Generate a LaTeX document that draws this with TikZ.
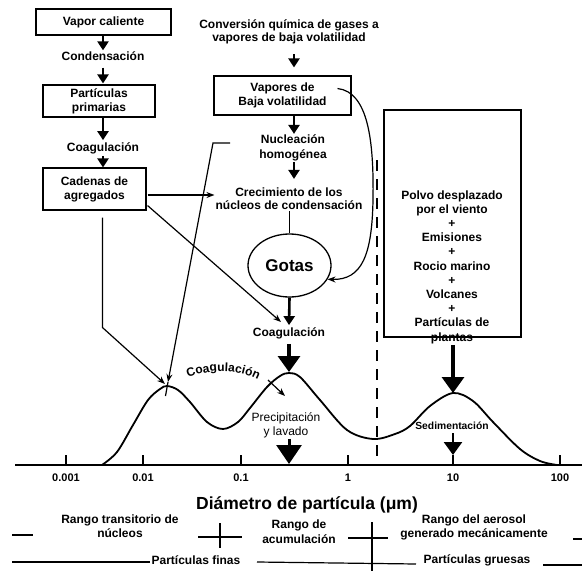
\documentclass[tikz,border=0pt]{standalone}
\usepackage{fontspec}
\setmainfont{Liberation Sans}
\usetikzlibrary{arrows.meta,calc,decorations.text,shapes.geometric}
\begin{document}
\begin{tikzpicture}[x=1pt,y=-1pt,
 lbl/.style={font=\bfseries\fontsize{12}{14}\selectfont, align=center, inner sep=1pt},
 boxn/.style={draw, line width=1.1pt, inner sep=0pt, align=center, font=\bfseries\fontsize{12}{14}\selectfont},
 sarrow/.style={line width=2.6pt, -{Triangle[width=11pt,length=9pt]}},
 barrow/.style={line width=3.4pt, -{Triangle[width=22pt,length=16pt]}},
 darrow/.style={line width=3pt, -{Triangle[width=25pt,length=19pt]}},
 earrow/.style={line width=2.6pt, -{Triangle[width=18pt,length=13pt]}},
 tline/.style={line width=1.2pt},
 tarrow/.style={line width=1.2pt, -{Stealth[length=8pt,width=6pt]}},
 tickl/.style={line width=1.2pt},
 num/.style={font=\bfseries\fontsize{11}{13}\selectfont, inner sep=1pt},
 ]
\useasboundingbox (0,0) rectangle (582,571);
\fill[white] (0,0) rectangle (582,571);

% column 1
\node[boxn, minimum width=135pt, minimum height=26pt] (vc) at (103.5,22) {Vapor caliente};
\node[lbl] (cond) at (103,56) {Condensación};
\node[boxn, minimum width=112pt, minimum height=32pt] (pp) at (99,101) {Partículas\\primarias};
\node[lbl] (coag1) at (103,148) {Coagulación};
\node[boxn, minimum width=103pt, minimum height=42pt] (cad) at (94.5,189) {Cadenas de\\agregados};
\draw[sarrow] (vc.south -| cond) -- (cond.north);
\draw[sarrow, shorten <=6pt, shorten >=1pt] (cond.south) -- (cond.south |- pp.north);
\draw[sarrow, shorten >=1pt] (pp.south -| coag1) -- (coag1.north);
\draw[sarrow, shorten <=1pt] (coag1.south) -- (coag1.south |- cad.north);

% column 2
\coordinate (col2) at (294,0);
\node[lbl, font=\bfseries\fontsize{12}{13}\selectfont] (conv) at (289,32) {Conversión química de gases a\\vapores de baja volatilidad};
\node[boxn, minimum width=137pt, minimum height=39pt] (vap) at (282.5,95.5) {Vapores de\\Baja volatilidad};
\node[lbl, font=\bfseries\fontsize{12}{14.5}\selectfont] (nuc) at (293,148) {Nucleación\\homogénea};
\node[lbl, font=\bfseries\fontsize{12}{13}\selectfont] (cre) at (289,199) {Crecimiento de los\\núcleos de condensación};
\node[draw, ellipse, line width=1.3pt, minimum width=83pt, minimum height=63pt, inner sep=0pt, font=\bfseries\fontsize{17}{20}\selectfont] (got) at (289.5,265.5) {Gotas};
\node[lbl] (coag2) at (289,333) {Coagulación};
\draw[sarrow, shorten <=9pt, shorten >=8pt] (conv.south -| col2) -- (vap.north -| col2);
\draw[sarrow] (vap.south -| col2) -- (nuc.north -| col2);
\draw[sarrow, shorten >=8pt] (nuc.south -| col2) -- (cre.north -| col2);
\draw[tline] (cre.south -| got.north) -- (got.north);
\draw[sarrow, shorten >=1pt] (got.south) -- (coag2.north);
\coordinate (pk2) at (289,372);
\draw[barrow, shorten <=4pt] (coag2.south) -- (pk2);

% curved arrow from Vapores to Gotas
\draw[tarrow] ($(vap.east)+(-14,-7)$) .. controls (368,92) and (374,140) .. (373,200) .. controls (372,255) and (362,280) .. (got.-20);

% right box
\node[draw, line width=1.1pt, minimum width=137pt, minimum height=227pt, inner sep=0pt] (rb) at (452.5,223.5) {};
\node[lbl, font=\bfseries\fontsize{12}{14.2}\selectfont] (rbt) at (452,267) {Polvo desplazado\\por el viento\\+\\Emisiones\\+\\Rocio marino\\+\\Volcanes\\+\\Partículas de\\plantas};
\coordinate (pk3) at (453,393);
\draw[barrow] (rbt.south -| pk3) -- (pk3);

% dashed separator
\coordinate (d1) at (377,160);
\coordinate (d2) at (377,465);
\draw[line width=1.8pt, dash pattern=on 11pt off 8pt] (d1) -- (d2);

% lines from Cadenas de agregados
\coordinate (pk1a) at (165,384);
\coordinate (pk1b) at (168,382);
\draw[tarrow] ($(cad.south)+(8,7)$) -- ++(0,110) -- (pk1a);
\coordinate (h1) at ($(cad.east)+(1,6)$);
\draw[tarrow] (h1) -- (h1 -| cre.west);
\coordinate (dg) at (281,322);
\draw[tarrow] ($(cad.south east)+(1,-5)$) -- (dg);
\coordinate (n1) at (230,143);
\coordinate (n2) at (213,143);
\draw[tarrow] (n1) -- (n2) -- (pk1b);
\draw[tline] (pk1b) -- ++(-2.5,14);

% distribution curve
\draw[line width=1.8pt] plot[smooth, tension=0.55] coordinates {(102,465) (117,452) (133,425) (148,400) (160,389) (167,386) (178,390) (190,402) (207,422) (223,429) (238,422) (250,408) (267,387) (280,376) (289,373) (300,377) (320,400) (347,430) (373,439) (395,434) (410,426) (430,406) (453,393) (473,401) (493,422) (520,449) (540,461) (557,465)};

% axis
\coordinate (ax0) at (15,465);
\coordinate (ax1) at (582,465);
\draw[line width=1.8pt] (ax0) -- (ax1);
\foreach \x/\t/\n in {66/0.001/a,143/0.01/b,241/0.1/c,348/1/d,453/10/e,560/100/f} {
  \draw[tickl] (\x,455) -- (\x,465);
  \node[num] (t\n) at (\x,478) {\t};
}

% precipitation / sedimentation
\node[font=\fontsize{12}{14}\selectfont, align=center, inner sep=1pt] (prec) at (286,425) {Precipitación\\y lavado};
\coordinate (pa) at (289,464);
\draw[darrow] (prec.south -| pa) -- (pa);
\node[font=\bfseries\fontsize{10.3}{12}\selectfont, inner sep=1pt] (sed) at (452,426) {Sedimentación};
\coordinate (sa) at (453,455);
\draw[earrow, shorten <=2pt] (sed.south -| sa) -- (sa);

% small arrow at second peak
\coordinate (s1) at (268,380);
\coordinate (s2) at (285,396);
\draw[tarrow] (s1) -- (s2);

% curved label
\path[decorate, decoration={text along path, text align=center, text={|\bfseries\fontsize{12}{14}\selectfont|Coagulación}}] (184,380) .. controls (205,369) and (238,367) .. (262,382);

% bottom labels
\node[font=\bfseries\fontsize{17.5}{21}\selectfont, inner sep=0pt] (diam) at (307,505) {Diámetro de partícula (μm)};
\node[lbl, font=\bfseries\fontsize{12}{14}\selectfont] (r1) at (120,526) {Rango transitorio de\\núcleos};
\node[lbl, font=\bfseries\fontsize{12}{15}\selectfont] (r2) at (299,532) {Rango de\\acumulación};
\node[lbl, font=\bfseries\fontsize{12}{14}\selectfont] (r3) at (474,527) {Rango del aerosol\\generado mecánicamente};
\draw[tline] (12,535) -- (33,535);
\draw[tline] (198,537) -- (242,537);
\draw[tline] (220,523) -- (220,548);
\draw[tline] (348,538) -- (388,538);
\draw[tline] (372,522) -- (372,571);
\draw[tline] (573,539) -- (582,539);
\node[lbl] (pf) at (196,560) {Partículas finas};
\node[lbl] (pg) at (477,560) {Partículas gruesas};
\draw[tline] (12,562) -- (150,562);
\draw[tline] (257,562) -- (416,564);
\draw[tline] (543,565) -- (582,565);
\end{tikzpicture}
\end{document}
